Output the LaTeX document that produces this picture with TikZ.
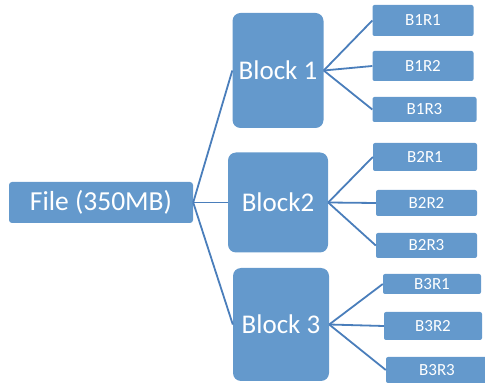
\documentclass[tikz,border=0pt]{standalone}
\usepackage{fontspec}
\setmainfont{Carlito}
\usetikzlibrary{trees}
\definecolor{boxblue}{RGB}{100,153,204}
\definecolor{edgeblue}{RGB}{74,126,187}
\tikzset{
  basic/.style   = {fill=boxblue, text=white, inner sep=0pt, align=center},
  filebox/.style = {basic, rounded corners=3pt, minimum width=184pt,
                   minimum height=41pt, font=\fontsize{27.5}{30}\selectfont},
  block/.style   = {basic, rounded corners=8pt, minimum width=93pt,
                   minimum height=114pt, font=\fontsize{27}{30}\selectfont},
  replica/.style = {basic, rounded corners=2pt, minimum width=101pt,
                   minimum height=28pt, font=\fontsize{17}{20}\selectfont}
}
\begin{document}
\begin{tikzpicture}[x=1pt, y=1pt,
  grow'=right,
  level 1/.style={level distance=177pt, sibling distance=127pt},
  level 2/.style={level distance=145pt, sibling distance=44pt},
  edge from parent/.style={draw=edgeblue, line width=1.8pt},
  edge from parent path={(\tikzparentnode.east) -- (\tikzchildnode.west)}]
\useasboundingbox (0,0) rectangle (485,383);

% the file, root of the tree
\node[filebox] (file) at (101,180.5) {File (350MB)}
% the blocks, and the replicas of each block
  child[yshift=5pt] {node[block, minimum width=91pt, minimum height=115pt] (b1) {Block 1}
    child[yshift=6pt] {node[replica, minimum height=31pt] (b1r1) {B1R1}}
    child[yshift=4.5pt] {node[replica, minimum height=30pt] (b1r2) {B1R2}}
    child[xshift=1.5pt, yshift=5pt] {node[replica, minimum width=104pt, minimum height=25pt] (b1r3) {B1R3}}
  }
  child {node[block, minimum width=100pt, minimum height=100pt] (b2) {Block2}
    child[xshift=2pt, yshift=1.5pt] {node[replica, minimum width=104pt] (b2r1) {B2R1}}
    child[xshift=3.5pt, yshift=-0.5pt] {node[replica, minimum height=26pt] (b2r2) {B2R2}}
    child[xshift=3.5pt, yshift=1pt] {node[replica, minimum height=25pt] (b2r3) {B2R3}}
  }
  child[xshift=3pt, yshift=5pt] {node[block, minimum width=96pt, minimum height=113pt] (b3) {Block 3}
    child[xshift=6pt, yshift=-3.5pt] {node[replica, minimum width=98pt, minimum height=20pt] (b3r1) {B3R1}}
    child[xshift=7pt, yshift=-1.5pt] {node[replica, minimum width=98pt] (b3r2) {B3R2}}
    child[xshift=11pt, yshift=-1.5pt] {node[replica, minimum width=102pt, minimum height=26pt] (b3r3) {B3R3}}
  };

\end{tikzpicture}
\end{document}
